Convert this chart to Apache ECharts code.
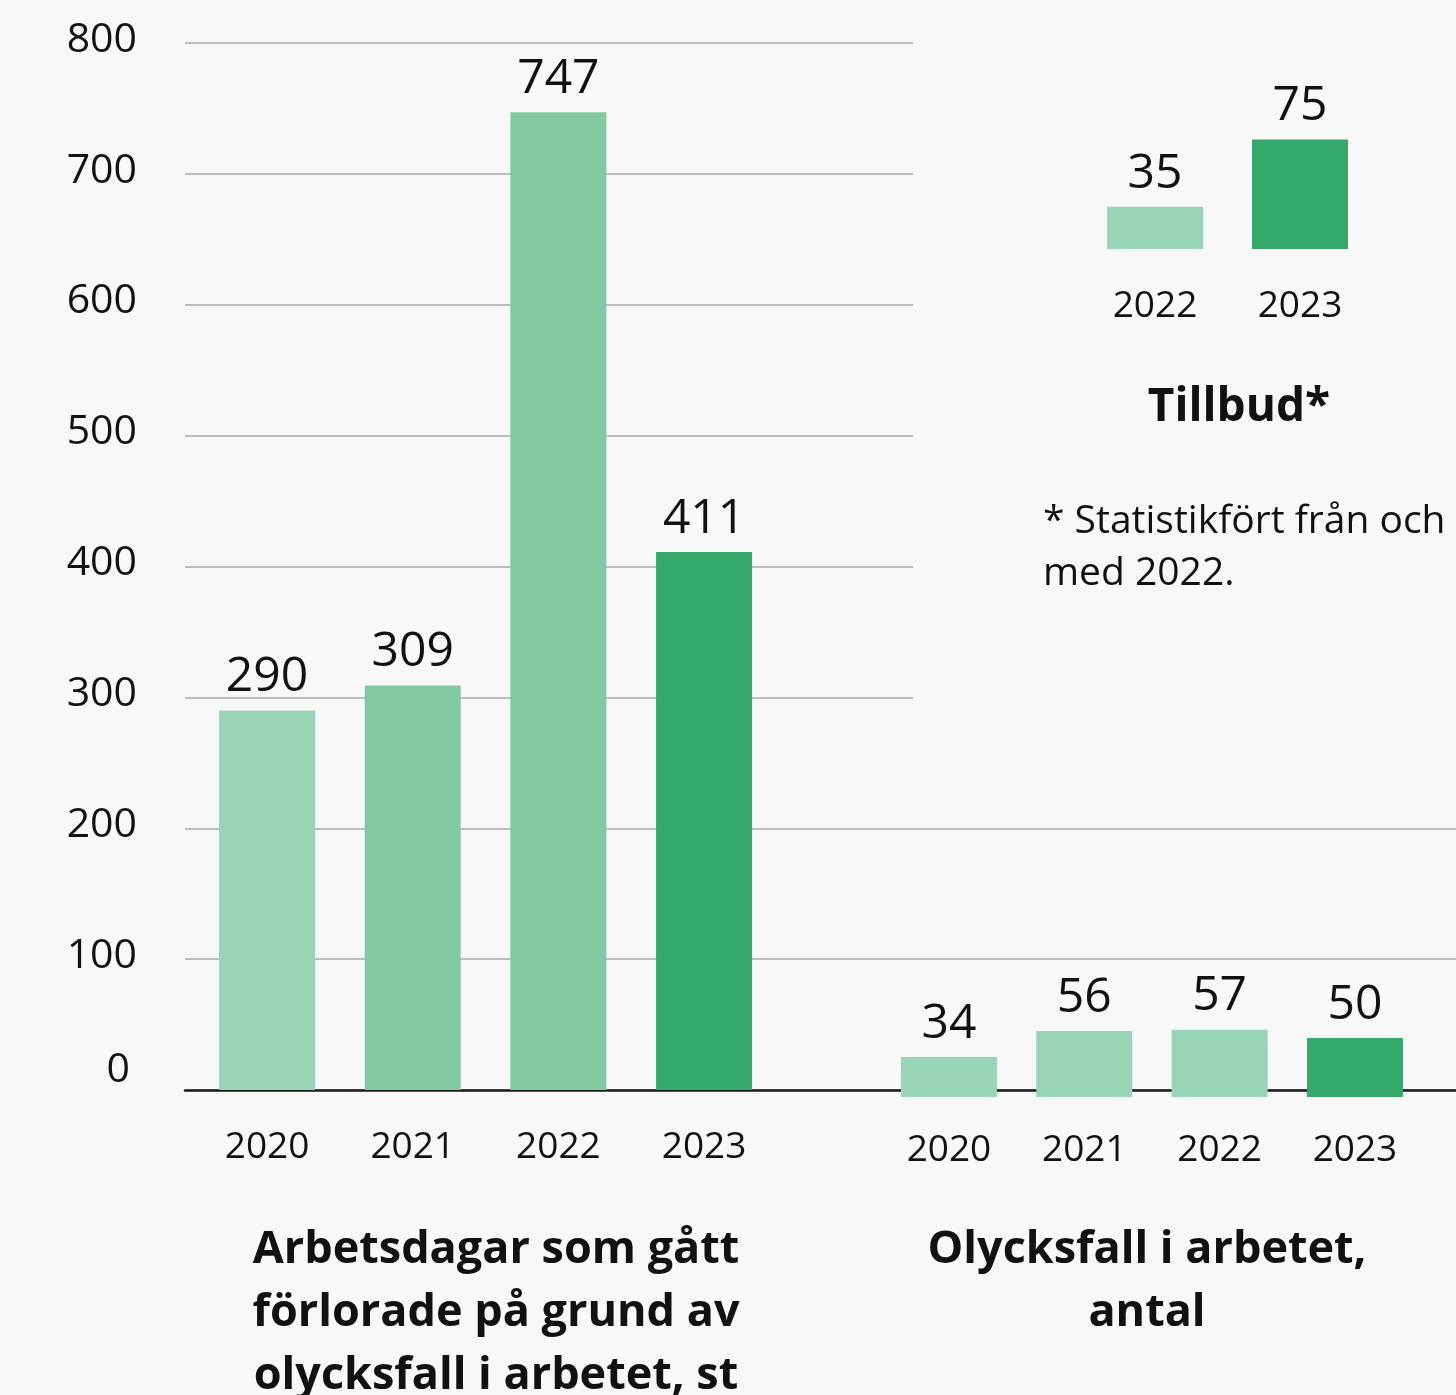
<!DOCTYPE html>
<html>
<head>
<meta charset="utf-8">
<script src="https://cdn.jsdelivr.net/npm/echarts@6/dist/echarts.min.js"></script>
<style>
  html, body { margin: 0; padding: 0; background: #f8f8f8; }
  #chart { width: 1456px; height: 1395px; }
</style>
</head>
<body>
<div id="chart"></div>
<script>
  // data
  const daysYears = ['2020', '2021', '2022', '2023'];
  const lostDays = [290, 309, 747, 411];
  const accidentYears = ['2020', '2021', '2022', '2023'];
  const accidents = [34, 56, 57, 50];
  const incidentYears = ['2022', '2023'];
  const incidents = [35, 75];

  // colours per bar
  const light = '#98d4b6', mid = '#82c9a3', dark = '#35a86b';
  const daysColors = [light, mid, mid, dark];
  const accidentColors = [light, light, light, dark];
  const incidentColors = [light, dark];

  const font = 'Open Sans';
  const txt = '#111';

  let chart = echarts.init(document.getElementById('chart'));

  function valueLabel() {
    return {
      show: true,
      position: 'top',
      distance: 9,
      fontFamily: font,
      fontSize: 48,
      color: txt
    };
  }

  function catAxis(gridIndex, data, margin) {
    return {
      type: 'category',
      gridIndex: gridIndex,
      data: data,
      axisLine: { show: false },
      axisTick: { show: false },
      axisLabel: { margin: margin, fontFamily: font, fontSize: 37, color: txt, verticalAlign: 'top' }
    };
  }

  function hiddenY(gridIndex, min, max) {
    return {
      type: 'value', gridIndex: gridIndex, min: min, max: max,
      show: false, splitLine: { show: false }
    };
  }

  chart.setOption({
    backgroundColor: '#f8f8f8',
    animation: false,
    title: [{
      text: 'Arbetsdagar som gått\nförlorade på grund av\nolycksfall i arbetet, st',
      left: 491, top: 1214, textAlign: 'center',
      textStyle: { fontFamily: font, fontSize: 45, fontWeight: 'bold', color: txt, lineHeight: 63 }
    }, {
      text: 'Olycksfall i arbetet,\nantal',
      left: 1142, top: 1214, textAlign: 'center',
      textStyle: { fontFamily: font, fontSize: 45, fontWeight: 'bold', color: txt, lineHeight: 63 }
    }, {
      text: 'Tillbud*',
      left: 1234, top: 380, textAlign: 'center',
      textStyle: { fontFamily: font, fontSize: 46, fontWeight: 'bold', color: txt }
    }, {
      text: '* Statistikfört från och\nmed 2022.',
      left: 1038, top: 491,
      textStyle: { fontFamily: font, fontSize: 39, fontWeight: 'normal', color: txt, lineHeight: 52 }
    }],
    grid: [
      // left frame with gridlines
      { left: 185, top: 43, width: 728, height: 1047 },
      // right frame, only the two lowest gridlines
      { left: 913, right: 0, top: 828.25, height: 261.75 },
      // left bars
      { left: 194.2, top: 43, width: 582.7, height: 1047 },
      // accidents bars
      { left: 881.3, top: 979, width: 541.3, height: 118 },
      // incidents inset
      { left: 1082.5, top: 131, width: 290, height: 118 }
    ],
    xAxis: [
      {
        type: 'value', gridIndex: 0, min: 0, max: 1,
        axisLine: { show: true, lineStyle: { color: '#1a1a1a', width: 2.5 } },
        axisTick: { show: false }, axisLabel: { show: false }, splitLine: { show: false }
      },
      {
        type: 'value', gridIndex: 1, min: 0, max: 1,
        axisLine: { show: true, lineStyle: { color: '#1a1a1a', width: 2.5 } },
        axisTick: { show: false }, axisLabel: { show: false }, splitLine: { show: false }
      },
      catAxis(2, daysYears, 39),
      catAxis(3, accidentYears, 35),
      catAxis(4, incidentYears, 39)
    ],
    yAxis: [
      {
        type: 'value', gridIndex: 0, min: 0, max: 800, interval: 100,
        axisLine: { show: false }, axisTick: { show: false },
        axisLabel: {
          margin: 48, fontFamily: font, fontSize: 41, color: txt,
          formatter: v => v === 0 ? '{z|0}' : '{n|' + v + '}',
          rich: {
            n: { fontFamily: font, fontSize: 41, color: txt, padding: [0, 0, 6, 0] },
            z: { fontFamily: font, fontSize: 41, color: txt, padding: [0, 7, 40, 0] }
          }
        },
        splitLine: { show: true, lineStyle: { color: '#bdbdbd', width: 2 } }
      },
      {
        type: 'value', gridIndex: 1, min: 0, max: 200, interval: 100,
        axisLine: { show: false }, axisTick: { show: false }, axisLabel: { show: false },
        splitLine: { show: true, lineStyle: { color: '#bdbdbd', width: 2 } }
      },
      hiddenY(2, 0, 800),
      hiddenY(3, 0, 100),
      hiddenY(4, 10, 80)
    ],
    series: [
      {
        name: 'Arbetsdagar', type: 'bar', xAxisIndex: 2, yAxisIndex: 2,
        barWidth: 96, data: lostDays, z: 3,
        itemStyle: { color: p => daysColors[p.dataIndex] },
        label: valueLabel()
      },
      {
        name: 'Olycksfall', type: 'bar', xAxisIndex: 3, yAxisIndex: 3,
        barWidth: 96, data: accidents, z: 3,
        itemStyle: { color: p => accidentColors[p.dataIndex] },
        label: valueLabel()
      },
      {
        name: 'Tillbud', type: 'bar', xAxisIndex: 4, yAxisIndex: 4,
        barWidth: 96, data: incidents, z: 3,
        itemStyle: { color: p => incidentColors[p.dataIndex] },
        label: valueLabel()
      }
    ]
  });
</script>
</body>
</html>
